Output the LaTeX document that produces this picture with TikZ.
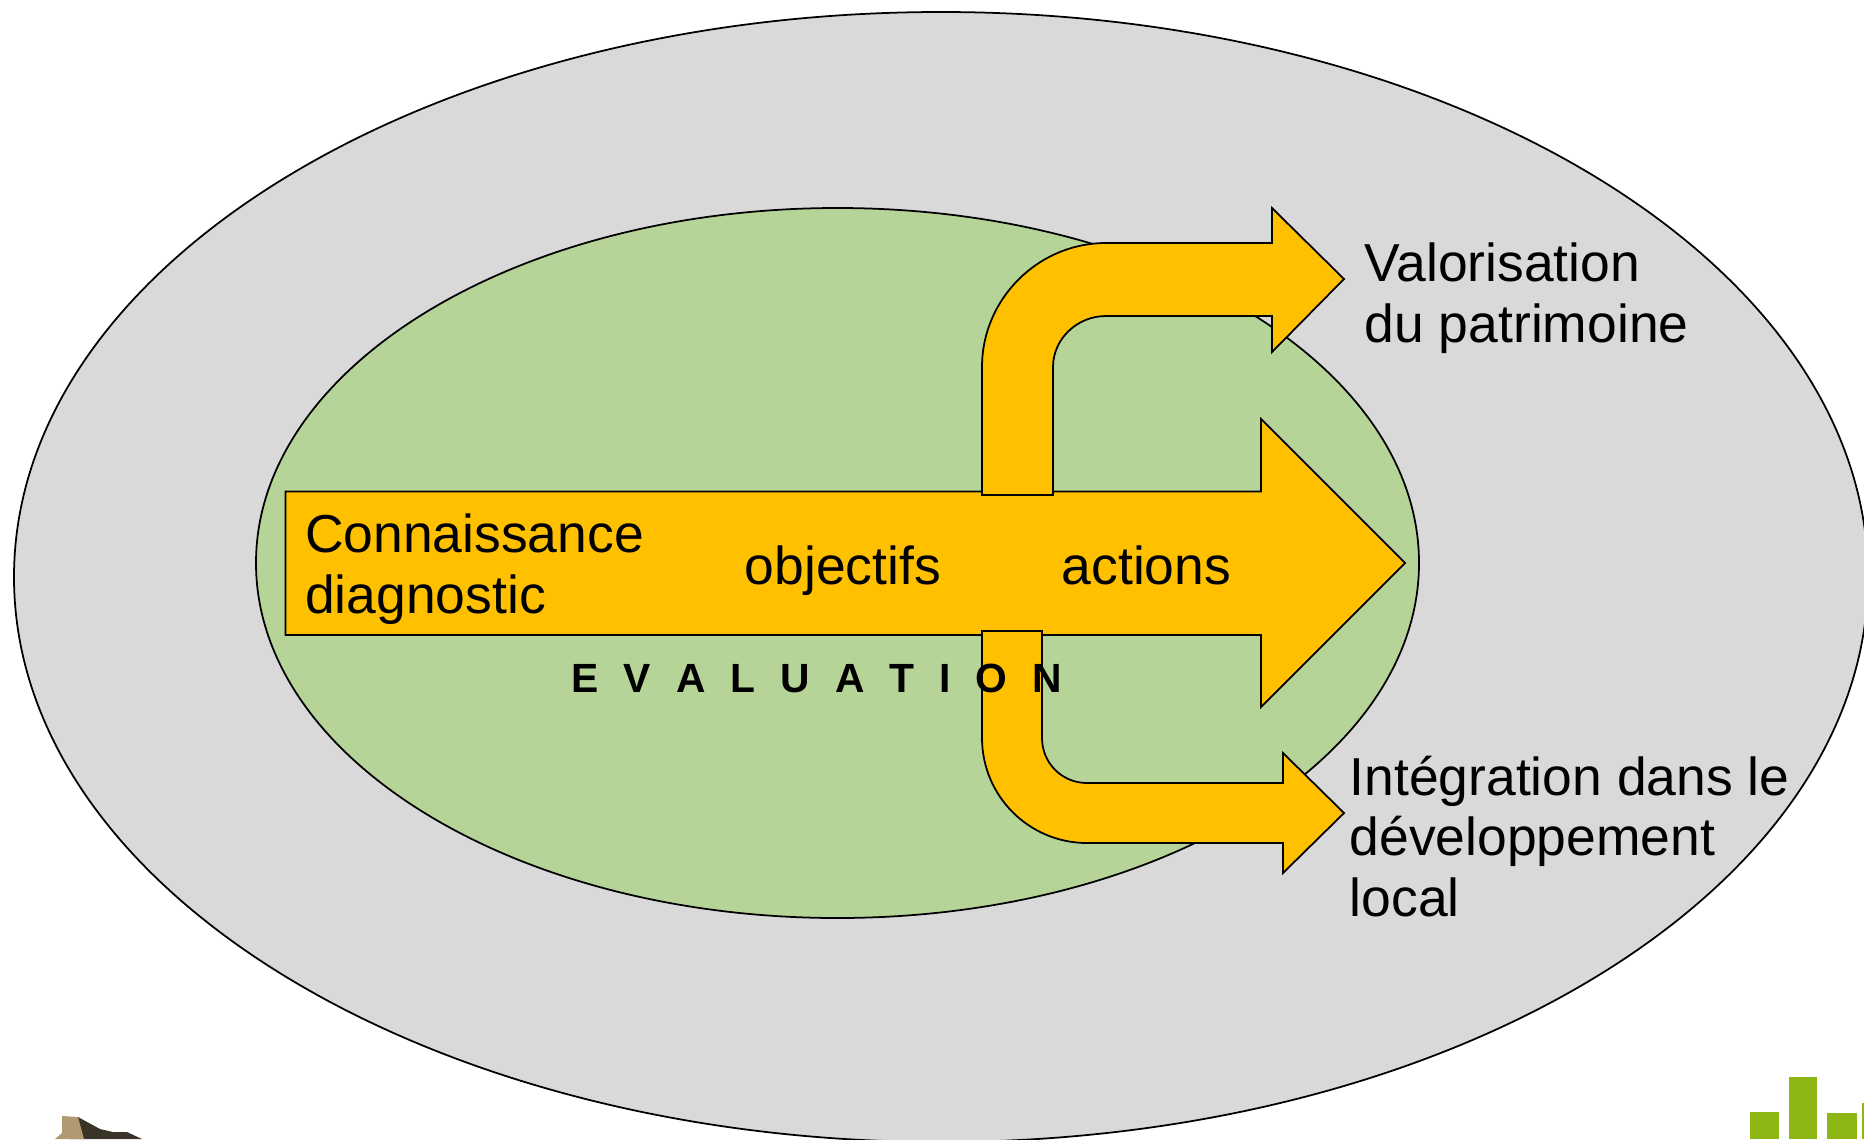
\documentclass[tikz,border=0pt]{standalone}
\usepackage{fontspec}
\usepackage{xcolor}
\setmainfont{Liberation Sans}
\definecolor{outergray}{HTML}{D9D9D9}
\definecolor{innergreen}{HTML}{B6D498}
\definecolor{arrowgold}{HTML}{FFC000}
\definecolor{barsgreen}{HTML}{8DB814}
\definecolor{rockdark}{HTML}{3A3428}
\definecolor{rocklight}{HTML}{B09A72}
\tikzset{zone/.style={draw=black, line width=.5pt},
 flow/.style={draw=black, line width=.5pt, fill=arrowgold, line join=miter},
 label/.style={inner sep=0, anchor=base west, align=left, font=\fontsize{15.2}{17.1}\selectfont},
 spaced/.style={inner sep=0, anchor=base west, font=\fontsize{11.6}{13}\selectfont\bfseries},
 }

\begin{document}
\begin{tikzpicture}[x=.01cm, y=-.01cm]
        \useasboundingbox (0, 0) rectangle (1864, 1139);

        \draw[zone, fill=outergray] (941, 577) ellipse [x radius=927, y radius=565];
        \draw[zone, fill=innergreen] (837.5, 563) ellipse [x radius=581.5, y radius=355];

        \draw[flow] (285.5, 491.5) -- (1261, 491.5) -- (1261, 419) -- (1405, 563) -- (1261, 707) -- (1261, 635) -- (285.5, 635) -- cycle;
        \draw[flow] (982, 495) -- (982, 367) .. controls (982, 299) and (1038, 243) .. (1106, 243) -- (1272, 243) -- (1272, 208) -- (1344, 279) -- (1272, 352) -- (1272, 316) -- (1106, 316) .. controls (1077, 316) and (1053, 339) .. (1053, 367) -- (1053, 495) -- cycle;
        \draw[flow] (982, 631) -- (982, 738) .. controls (982, 796) and (1029, 843) .. (1087, 843) -- (1283, 843) -- (1283, 873) -- (1344, 813) -- (1283, 753) -- (1283, 783) -- (1087, 783) .. controls (1062, 783) and (1042, 763) .. (1042, 738) -- (1042, 631) -- cycle;

        \node[label] (connaissance) at (304.5, 613) {Connaissance\\diagnostic};
        \node[label] (objectifs) at (744, 584) {objectifs};
        \node[label] (actions) at (1061, 584) {actions};
        \node[label] (valorisation) at (1364, 342) {Valorisation\\du patrimoine};
        \node[label] (integration) at (1349, 916) {Intégration dans le\\développement\\local};
        \node[spaced] (evaluation) at (571, 692) {\spaceskip=.25cm\relax E V A L U A T I O N};

        % logos at the foot of the page
        \foreach \x/\w/\y in {1750/29/1112, 1789/28/1077, 1827/30/1113, 1862/4/1103} {
            \fill[barsgreen] (\x, \y) rectangle (\x+\w, 1139);
        }
        \fill[rockdark] (78, 1117) -- (100, 1129) -- (113, 1132) -- (127, 1132) -- (142, 1139) -- (70, 1139) -- cycle;
        \fill[rocklight] (62, 1116) -- (78, 1117) -- (84, 1139) -- (55, 1139) -- (62, 1133) -- cycle;
    \end{tikzpicture}
\end{document}
